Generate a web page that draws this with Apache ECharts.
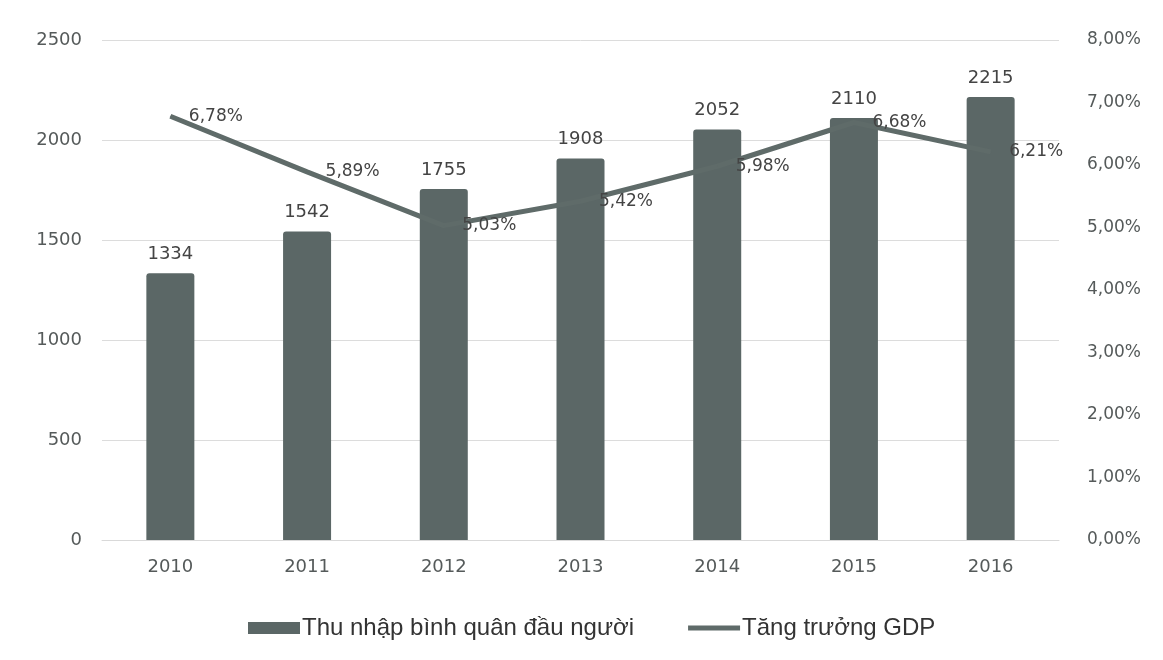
<!DOCTYPE html>
<html>
<head>
<meta charset="utf-8">
<script src="https://cdn.jsdelivr.net/npm/echarts@6/dist/echarts.min.js"></script>
<style>
html,body{margin:0;padding:0;background:#fff;}
#c{width:1163px;height:660px;}
</style>
</head>
<body>
<div id="c"></div>
<script>
const years = ['2010','2011','2012','2013','2014','2015','2016'];
const income = [1334,1542,1755,1908,2052,2110,2215];
const gdpGrowth = [6.78,5.89,5.03,5.42,5.98,6.68,6.21];

const pct = v => v.toFixed(2).replace('.', ',') + '%';
const chart = echarts.init(document.getElementById('c'));
const font = 'DejaVu Sans, sans-serif';
const txt = '#555a5a';
chart.setOption({
  backgroundColor: '#ffffff',
  animation: false,
  textStyle: {fontFamily: font},
  grid: {left: 102, right: 104, top: 40, bottom: 120},
  legend: {
    bottom: 15,
    left: 243,
    itemGap: 54,
    itemWidth: 52,
    itemHeight: 12,
    textStyle: {fontSize: 24, color: '#333', fontFamily: 'Liberation Sans, Arial, sans-serif', padding: [0, 0, 0, -3]},
    data: [
      {name: 'Thu nhập bình quân đầu người', icon: 'rect'},
      {name: 'Tăng trưởng GDP', icon: 'path://M0,0H52V5H0Z', itemStyle: {color: '#5f6b69'}}
    ]
  },
  xAxis: {
    type: 'category',
    data: years,
    axisTick: {show: false},
    axisLine: {lineStyle: {color: '#d9d9d9', width: 1}},
    axisLabel: {color: txt, fontSize: 18, margin: 18}
  },
  yAxis: [
    {
      type: 'value', min: 0, max: 2500, interval: 500,
      axisLine: {show: false}, axisTick: {show: false},
      axisLabel: {color: txt, fontSize: 18, margin: 20, formatter: v => String(v)},
      splitLine: {lineStyle: {color: '#dcdcdc', width: 1}}
    },
    {
      type: 'value', min: 0, max: 8, interval: 1,
      axisLine: {show: false}, axisTick: {show: false},
      axisLabel: {color: txt, fontSize: 17, margin: 28, formatter: v => pct(v)},
      splitLine: {show: false}
    }
  ],
  series: [
    {
      name: 'Thu nhập bình quân đầu người',
      type: 'bar',
      data: income,
      barWidth: 48,
      itemStyle: {color: '#5b6766', borderRadius: [3,3,0,0]},
      label: {show: true, position: 'top', distance: 10, color: '#444', fontSize: 18}
    },
    {
      name: 'Tăng trưởng GDP',
      type: 'line',
      yAxisIndex: 1,
      data: gdpGrowth,
      symbol: 'circle',
      symbolSize: 1,
      showSymbol: true,
      lineStyle: {color: '#5f6b69', width: 5},
      itemStyle: {color: '#5f6b69'},
      label: {show: true, position: 'right', distance: 18, color: '#444', fontSize: 17, formatter: p => pct(p.value)}
    }
  ]
});
</script>
</body>
</html>
